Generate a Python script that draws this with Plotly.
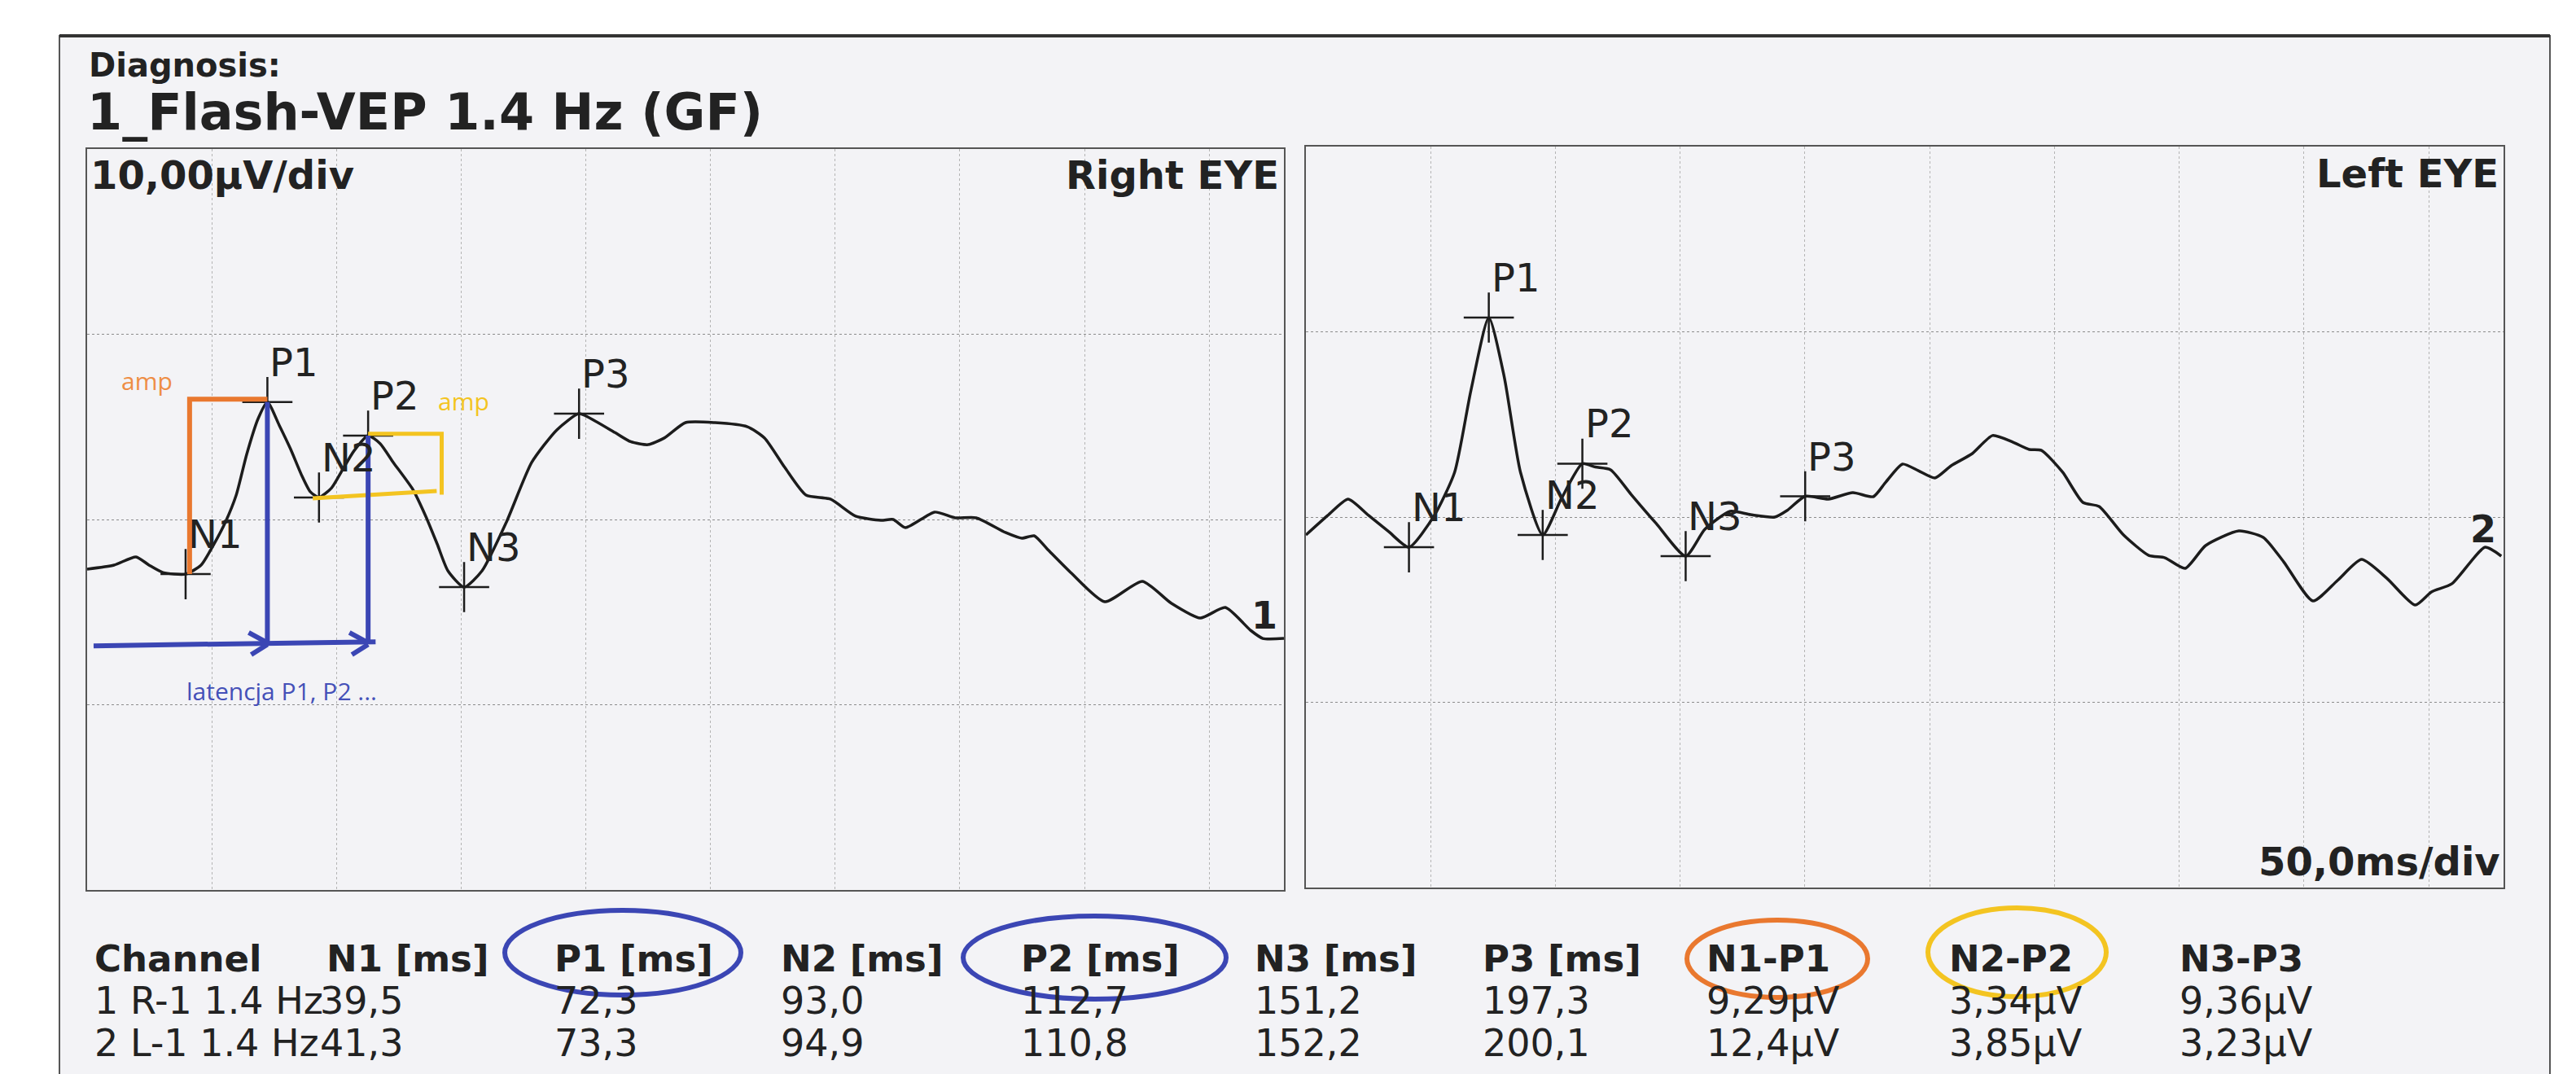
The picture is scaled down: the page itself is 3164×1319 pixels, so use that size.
import plotly.graph_objects as go

W, H = 3164, 1319

# ---------------- data ----------------
# Right eye waveform: time [ms], amplitude [uV]
right_t = [0, 10.8, 19.6, 24.8, 30.4, 39.5, 45.7, 50.9, 55.5, 59.8, 64.0, 68.6, 72.3, 77.0, 81.6, 86.0,
           89.5, 93.0, 98.0, 102.5, 107.0, 112.7, 117.5, 122.8, 130.6, 135.8, 140.4, 144.7, 151.2, 158.4,
           168.2, 178.3, 188.4, 197.3, 204.0, 211.6, 218.0, 225.0, 231.5, 240.0, 251.8, 264.8, 271.7,
           279.8, 288.3, 298.1, 308.2, 318.4, 323.3, 328.2, 339.9, 348.1, 356.6, 368.3, 374.9, 379.8,
           385.0, 394.8, 408.2, 423.2, 434.9, 446.4, 456.5, 466.6, 471.5, 480.0]
right_v = [-2.68, -2.46, -2.02, -2.46, -2.86, -2.95, -2.46, -1.32, -0.13, 1.32, 3.52, 5.45, 6.34, 5.1,
           3.8, 2.4, 1.5, 1.19, 1.7, 2.7, 3.7, 4.53, 4.1, 3.08, 1.63, 0.18, -1.32, -2.77, -3.65, -2.77,
           -0.13, 3.08, 4.84, 5.71, 5.3, 4.70, 4.2, 4.04, 4.40, 5.23, 5.23, 5.01, 4.40, 2.81, 1.32, 1.10,
           0.18, -0.04, 0.0, -0.44, 0.40, 0.09, 0.09, -0.70, -1.01, -0.88, -1.58, -2.90, -4.44, -3.34,
           -4.53, -5.32, -4.75, -5.98, -6.42, -6.42]

# Left eye waveform: time [ms], amplitude [uV]
left_t = [0, 8.8, 16.9, 25.1, 33.2, 41.3, 51.5, 59.6, 66.1, 73.3, 79.5, 86.0, 94.9, 102.3, 110.8, 116.0,
          122.1, 130.3, 140.4, 152.2, 159.9, 170.0, 178.2, 187.9, 192.8, 200.1, 209.4, 219.2, 227.4,
          232.2, 239.1, 245.5, 252.1, 258.6, 267.1, 275.2, 283.4, 289.9, 294.8, 303.3, 311.4, 317.9,
          327.7, 337.8, 344.3, 352.4, 360.6, 373.9, 383.7, 391.9, 403.6, 413.4, 423.1, 433.2, 444.6,
          451.1, 459.3, 472.6, 479.1]
left_v = [-0.97, 0.09, 0.97, 0.09, -0.79, -1.63, 0.09, 2.42, 6.81, 10.77, 7.56, 2.42, -0.97, 0.97, 2.88,
          2.7, 2.55, 1.23, -0.35, -2.11, -0.66, 0.31, 0.13, 0.0, 0.35, 1.12, 0.97, 1.32, 1.10, 1.85,
          2.86, 2.5, 2.11, 2.77, 3.43, 4.40, 4.04, 3.65, 3.60, 2.42, 0.79, 0.57, -0.97, -2.07, -2.20,
          -2.77, -1.54, -0.75, -1.10, -2.42, -4.53, -3.43, -2.29, -3.30, -4.75, -4.04, -3.60, -1.63,
          -2.11]

peak_names = ["N1", "P1", "N2", "P2", "N3", "P3"]
right_lat = [39.5, 72.3, 93.0, 112.7, 151.2, 197.3]
left_lat = [41.3, 73.3, 94.9, 110.8, 152.2, 200.1]
right_amp = [-2.95, 6.34, 1.19, 4.53, -3.65, 5.71]
left_amp = [-1.63, 10.77, -0.97, 2.88, -2.11, 1.12]

table_header = ["Channel", "N1 [ms]", "P1 [ms]", "N2 [ms]", "P2 [ms]", "N3 [ms]", "P3 [ms]",
                "N1-P1", "N2-P2", "N3-P3"]
channels = ["1 R-1 1.4 Hz", "2 L-1 1.4 Hz"]
n1p1 = [9.29, 12.4]
n2p2 = [3.34, 3.85]
n3p3 = [9.36, 3.23]

# ---------------- helpers ----------------
INK = "#222222"
BLUE = "#3B46B4"
ORANGE = "#E9782F"
YELLOW = "#F3C421"
FONT = "DejaVu Sans"


def fx(px):
    return px / W


def fy(py):
    return 1 - py / H


def fmt_ms(v):
    return f"{v:.1f}".replace(".", ",")


def fmt_uv(v):
    s = f"{v:.1f}" if v >= 10 else f"{v:.2f}"
    return s.replace(".", ",") + "µV"


fig = go.Figure()


def page_text(s, x, y, size, color=INK, anchor="left", bold=False, family=FONT):
    fig.add_annotation(text=f"<b>{s}</b>" if bold else s, x=fx(x), y=fy(y), xref="paper", yref="paper",
                       xanchor=anchor, yanchor="middle", showarrow=False, borderpad=0,
                       font=dict(family=family, size=size, color=color))


# ---------------- traces ----------------
for t, v, lat, amp, xa, ya in [(right_t, right_v, right_lat, right_amp, "x", "y"),
                               (left_t, left_v, left_lat, left_amp, "x2", "y2")]:
    fig.add_trace(go.Scatter(x=t, y=v, mode="lines", xaxis=xa, yaxis=ya, hoverinfo="skip",
                             line=dict(color="#1c1c1c", width=3.5, shape="spline", smoothing=0.6)))
    fig.add_trace(go.Scatter(x=lat, y=amp, mode="markers", xaxis=xa, yaxis=ya, hoverinfo="skip",
                             marker=dict(symbol="cross-thin", size=44, color="#1c1c1c",
                                         line=dict(color="#1c1c1c", width=2.5))))
    for name, xl, yl in zip(peak_names, lat, amp):
        fig.add_annotation(text=name, x=xl, y=yl, xref=xa, yref=ya, xanchor="left", yanchor="middle",
                           xshift=2, yshift=49, showarrow=False, borderpad=0,
                           font=dict(family=FONT, size=48, color=INK))

# channel numbers at the trace ends
fig.add_annotation(text="<b>1</b>", x=right_t[-3], y=right_v[-3] + 0.8, xref="x", yref="y",
                   xanchor="left", yanchor="middle", showarrow=False, borderpad=0,
                   font=dict(family=FONT, size=46, color=INK))
fig.add_annotation(text="<b>2</b>", x=left_t[-2] - 6.3, y=left_v[-2] + 0.97, xref="x2", yref="y2",
                   xanchor="left", yanchor="middle", showarrow=False, borderpad=0,
                   font=dict(family=FONT, size=46, color=INK))

# ---------------- axes ----------------
xcommon = dict(range=[0, 480], tick0=0, dtick=50, showticklabels=False, ticks="", showgrid=True,
               gridcolor="#b4b4b4", griddash="3px,3px", gridwidth=1, zeroline=False, showline=True,
               mirror=True, linecolor="#555555", linewidth=2, fixedrange=True)
ycommon = dict(range=[-20, 20], tick0=0, dtick=10, showticklabels=False, ticks="", showgrid=True,
               gridcolor="#8c8c8c", griddash="3px,3px", gridwidth=1, zeroline=False, showline=True,
               mirror=True, linecolor="#555555", linewidth=2, fixedrange=True)

fig.update_layout(
    width=W, height=H, margin=dict(l=0, r=0, t=0, b=0, pad=0),
    paper_bgcolor="white", plot_bgcolor="rgba(0,0,0,0)", showlegend=False,
    xaxis=dict(domain=[fx(107), fx(1577)], anchor="y", **xcommon),
    yaxis=dict(domain=[fy(1093), fy(183)], anchor="x", **ycommon),
    xaxis2=dict(domain=[fx(1604), fx(3075)], anchor="y2", **xcommon),
    yaxis2=dict(domain=[fy(1090), fy(180)], anchor="x2", **ycommon),
)

# ---------------- page frame ----------------
fig.add_shape(type="rect", xref="paper", yref="paper", x0=fx(73), x1=fx(3132), y0=fy(1340), y1=fy(44),
              fillcolor="#F3F3F6", line=dict(color="#555555", width=2), layer="below")
fig.add_shape(type="line", xref="paper", yref="paper", x0=fx(73), x1=fx(3132), y0=fy(44), y1=fy(44),
              line=dict(color="#333333", width=4), layer="below")

# ---------------- page texts ----------------
page_text("Diagnosis:", 108, 80, 40, bold=True)
page_text("1_Flash-VEP 1.4 Hz (GF)", 106, 137, 62, bold=True)
page_text("10,00µV/div", 110, 215, 48, bold=True)
page_text("Right EYE", 1572, 215, 48, anchor="right", bold=True)
page_text("Left EYE", 3070, 213, 48, anchor="right", bold=True)
page_text("50,0ms/div", 3072, 1058, 48, anchor="right", bold=True)

# ---------------- table ----------------
col_x = [115, 392, 680, 958, 1253, 1540, 1820, 2095, 2393, 2676]
row_y = [1177, 1229, 1281]
for cx, h in zip(col_x, table_header):
    page_text(h, cx + (8 if h.startswith("N1 [") else 0), row_y[0], 45, bold=True)
for r in range(2):
    lats = right_lat if r == 0 else left_lat
    vals = [channels[r]] + [fmt_ms(v) for v in lats] + [fmt_uv(n1p1[r]), fmt_uv(n2p2[r]), fmt_uv(n3p3[r])]
    for cx, s in zip(col_x, vals):
        page_text(s, cx, row_y[r + 1], 46)

# ---------------- hand-drawn overlays ----------------
HAND = "Open Sans"
# orange amplitude bracket (N1 -> P1)
ox = right_lat[0] + 1.6
fig.add_shape(type="path", xref="x", yref="y",
              path=f"M {ox},{right_amp[0]} L {ox},{right_amp[1] + 0.15} L {right_lat[1]},{right_amp[1] + 0.15}",
              line=dict(color=ORANGE, width=6))
page_text("amp", 148, 467, 30, color="#EE8D45", family=HAND)

# yellow amplitude box (N2 -> P2)
yx = right_lat[3] + 29.5
fig.add_shape(type="path", xref="x", yref="y",
              path=(f"M {right_lat[3]},{right_amp[3] + 0.1} L {yx},{right_amp[3] + 0.1} "
                    f"L {yx},{right_amp[2] + 0.15}"),
              line=dict(color=YELLOW, width=5))
fig.add_shape(type="line", xref="x", yref="y", x0=right_lat[2] - 2.5, y0=right_amp[2] - 0.05,
              x1=yx - 2, y1=right_amp[2] + 0.35, line=dict(color=YELLOW, width=5))
page_text("amp", 537, 493, 30, color=YELLOW, family=HAND)

# blue latency lines and arrows
base = -6.7
for i in (1, 3):
    fig.add_shape(type="line", xref="x", yref="y", x0=right_lat[i], y0=right_amp[i], x1=right_lat[i],
                  y1=base, line=dict(color=BLUE, width=6))
    fig.add_shape(type="path", xref="x", yref="y",
                  path=(f"M {right_lat[i] - 7.5},{base + 0.6} L {right_lat[i]},{base + 0.05} "
                        f"M {right_lat[i] - 6.5},{base - 0.6} L {right_lat[i]},{base - 0.05}"),
                  line=dict(color=BLUE, width=6))
fig.add_shape(type="line", xref="x", yref="y", x0=2.6, y0=base - 0.12, x1=right_lat[3] + 3, y1=base + 0.1,
              line=dict(color=BLUE, width=6))
page_text("latencja P1, P2 ...", 228, 848, 30, color="#4450B8", family=HAND)

# ellipses around table headers
for (x0, x1, y0, y1, c) in [(620, 910, 1118, 1222, BLUE), (1183, 1506, 1125, 1227, BLUE),
                            (2072, 2294, 1130, 1225, ORANGE), (2368, 2587, 1115, 1224, YELLOW)]:
    fig.add_shape(type="circle", xref="paper", yref="paper", x0=fx(x0), x1=fx(x1), y0=fy(y1), y1=fy(y0),
                  line=dict(color=c, width=6))

fig.write_html("out.html")
